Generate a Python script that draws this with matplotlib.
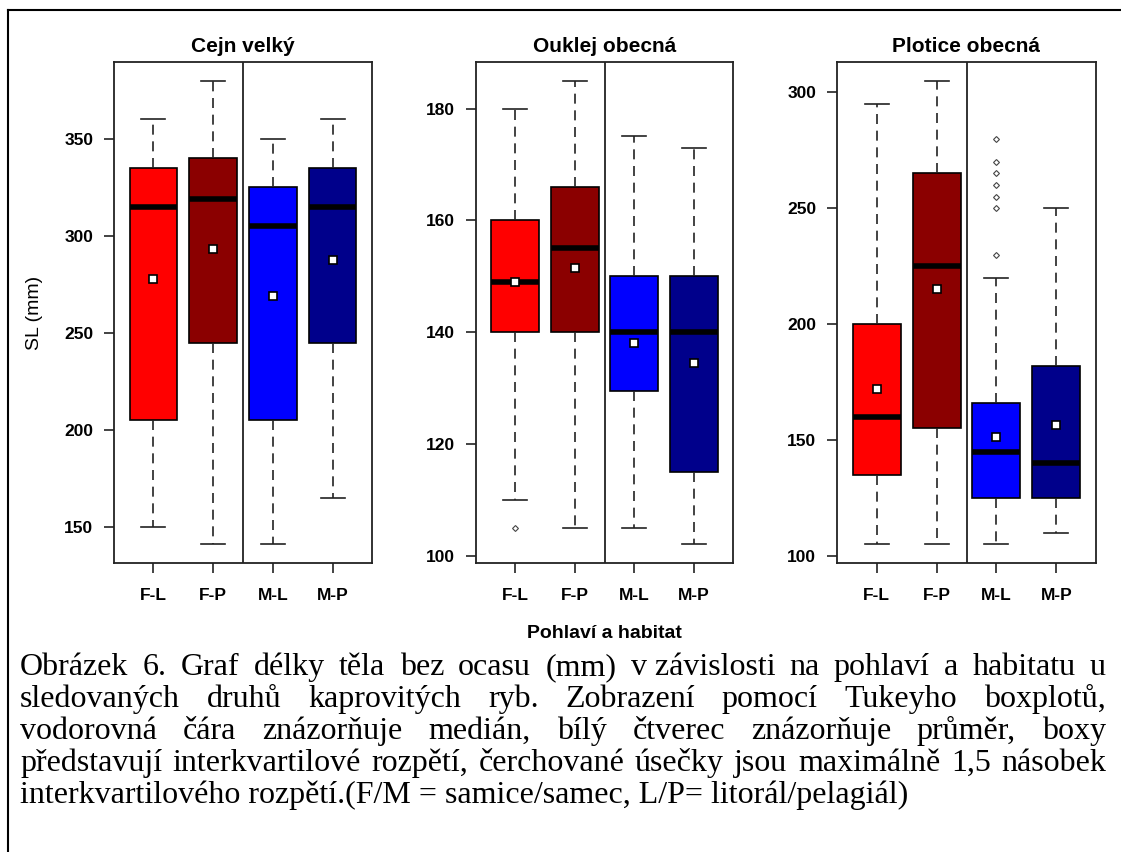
import matplotlib
matplotlib.use("Agg")
import matplotlib.pyplot as plt
from matplotlib.lines import Line2D

W, H = 1121, 852

GROUPS = ["F-L", "F-P", "M-L", "M-P"]
COLORS = ["#FF0000", "#8B0000", "#0000FF", "#00008B"]
TITLES = ["Cejn velký", "Ouklej obecná", "Plotice obecná"]
YTICKS = [[150, 200, 250, 300, 350], [100, 120, 140, 160, 180], [100, 150, 200, 250, 300]]

# Cejn velký
CEJN_LOW = [150, 141, 141, 165]
CEJN_Q1 = [205, 245, 205, 245]
CEJN_MED = [315, 319, 305, 315]
CEJN_Q3 = [335, 340, 325, 335]
CEJN_HIGH = [360, 380, 350, 360]
CEJN_MEAN = [278, 293, 269, 287.5]
CEJN_OUT = [[], [], [], []]

# Ouklej obecná
OUKLEJ_LOW = [110, 105, 105, 102]
OUKLEJ_Q1 = [140, 140, 129.5, 115]
OUKLEJ_MED = [149, 155, 140, 140]
OUKLEJ_Q3 = [160, 166, 150, 150]
OUKLEJ_HIGH = [180, 185, 175, 173]
OUKLEJ_MEAN = [149, 151.5, 138, 134.5]
OUKLEJ_OUT = [[105], [], [], []]

# Plotice obecná
PLOTICE_LOW = [105, 105, 105, 110]
PLOTICE_Q1 = [135, 155, 125, 125]
PLOTICE_MED = [160, 225, 145, 140]
PLOTICE_Q3 = [200, 265, 166, 182]
PLOTICE_HIGH = [295, 305, 220, 250]
PLOTICE_MEAN = [172, 215, 151.5, 156.5]
PLOTICE_OUT = [[], [], [230, 250, 255, 260, 265, 270, 280], []]

SPECIES = [
    (CEJN_LOW, CEJN_Q1, CEJN_MED, CEJN_Q3, CEJN_HIGH, CEJN_MEAN, CEJN_OUT),
    (OUKLEJ_LOW, OUKLEJ_Q1, OUKLEJ_MED, OUKLEJ_Q3, OUKLEJ_HIGH, OUKLEJ_MEAN, OUKLEJ_OUT),
    (PLOTICE_LOW, PLOTICE_Q1, PLOTICE_MED, PLOTICE_Q3, PLOTICE_HIGH, PLOTICE_MEAN, PLOTICE_OUT),
]

CAPTION = [
    "Obrázek 6. Graf délky těla bez ocasu (mm) v\u00a0závislosti na pohlaví a habitatu u",
    "sledovaných druhů kaprovitých ryb. Zobrazení pomocí Tukeyho boxplotů,",
    "vodorovná čára znázorňuje medián, bílý čtverec znázorňuje průměr, boxy",
    "představují interkvartilové rozpětí, čerchované úsečky jsou maximálně 1,5 násobek",
    "interkvartilového rozpětí.(F/M = samice/samec, L/P= litorál/pelagiál)",
]

# axes boxes in pixels: left, right, top, bottom
PANELS = [(114, 372, 62, 563), (476, 733, 62, 563), (837, 1096, 62, 563)]

plt.rcParams["font.family"] = ["Liberation Sans", "DejaVu Sans"]

fig = plt.figure(figsize=(W / 100, H / 100), dpi=100)

for (l, r, t, b), title, ticks, data in zip(PANELS, TITLES, YTICKS, SPECIES):
    ax = fig.add_axes([l / W, 1 - b / H, (r - l) / W, (b - t) / H])
    low, q1, med, q3, high, mean, out = data
    stats = []
    for i in range(4):
        stats.append(dict(whislo=low[i], q1=q1[i], med=med[i], q3=q3[i],
                          whishi=high[i], mean=mean[i], fliers=out[i]))
    parts = ax.bxp(stats, positions=[1, 2, 3, 4], widths=0.8, capwidths=0.4,
                   patch_artist=True, showmeans=True,
                   boxprops=dict(edgecolor="black", linewidth=1.2),
                   whiskerprops=dict(color="#222222", linewidth=1.2, linestyle=(0, (6, 4))),
                   capprops=dict(color="#222222", linewidth=1.2),
                   medianprops=dict(color="black", linewidth=4, solid_capstyle="butt"),
                   meanprops=dict(marker="s", markersize=5.5, markerfacecolor="white",
                                  markeredgecolor="black", markeredgewidth=1.2),
                   flierprops=dict(marker="D", markersize=3, markerfacecolor="none",
                                   markeredgecolor="#444444", markeredgewidth=0.8))
    for patch, c in zip(parts["boxes"], COLORS):
        patch.set_facecolor(c)

    lo = min(low + [v for o in out for v in o])
    hi = max(high + [v for o in out for v in o])
    ext = 0.04 * (hi - lo)
    ax.set_ylim(lo - ext, hi + ext)
    ax.set_xlim(0.34, 4.66)
    ax.axvline(2.5, color="#222222", linewidth=1.3)

    ax.set_yticks(ticks)
    ax.set_yticklabels([str(v) for v in ticks], fontweight="bold")
    ax.set_xticks([1, 2, 3, 4])
    ax.set_xticklabels(GROUPS, fontweight="bold")
    ax.tick_params(axis="both", length=7, width=1.2, labelsize=12.5, color="#222222")
    ax.tick_params(axis="y", pad=8)
    ax.tick_params(axis="x", pad=11)
    for s in ax.spines.values():
        s.set_linewidth(1.3)
        s.set_color("#222222")
    ax.set_title(title, fontsize=15, fontweight="bold", pad=7)
    if l == 114:
        ax.set_ylabel("SL (mm)", fontsize=14)
        ax.yaxis.set_label_coords((43 - l) / (r - l), 0.5)

fig.text(604 / W, 1 - 633 / H, "Pohlaví a habitat", ha="center", va="center",
         fontsize=14, fontweight="bold")

# outer frame (top and left edges of the text frame)
fig.add_artist(Line2D([8 / W, 1], [1 - 10 / H, 1 - 10 / H], color="black", linewidth=1.5))
fig.add_artist(Line2D([8 / W, 8 / W], [0, 1 - 10 / H], color="black", linewidth=1.5))

# justified caption
renderer = fig.canvas.get_renderer()
x0, x1 = 20, 1106
base0, step = 675, 32
cap_font = dict(family=["Liberation Serif", "DejaVu Serif"], fontsize=23)
for n, line in enumerate(CAPTION):
    y = 1 - (base0 + n * step) / H
    if n == len(CAPTION) - 1:
        fig.text(x0 / W, y, line, ha="left", va="baseline", **cap_font)
        continue
    words = line.split(" ")
    texts = [fig.text(0, y, w, ha="left", va="baseline", **cap_font) for w in words]
    widths = [t.get_window_extent(renderer).width for t in texts]
    gap = (x1 - x0 - sum(widths)) / (len(words) - 1)
    x = x0
    for t, w in zip(texts, widths):
        t.set_x(x / W)
        x += w + gap

fig.savefig("out.png", dpi=100)
